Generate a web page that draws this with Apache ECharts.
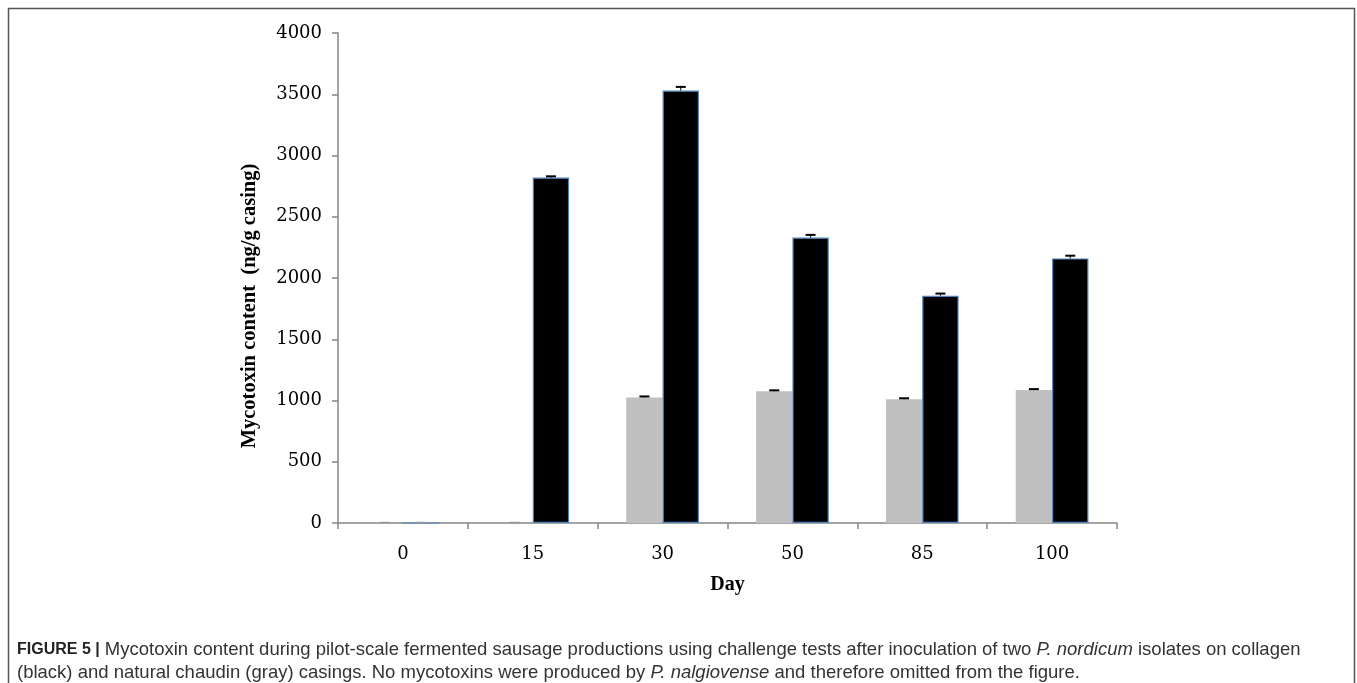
<!DOCTYPE html>
<html>
<head>
<meta charset="utf-8">
<script src="https://cdn.jsdelivr.net/npm/echarts@6/dist/echarts.min.js"></script>
<style>
html,body{margin:0;padding:0;background:#fff;}
#c{width:1357px;height:683px;}
</style>
</head>
<body>
<div id="c"></div>
<script>
const categories = ['0','15','30','50','85','100'];
const chaudin = [0, 0, 1025, 1075, 1010, 1085];
const chaudinErr = [5, 5, 8, 8, 8, 8];
const collagen = [0, 2820, 3530, 2330, 1855, 2160];
const collagenErr = [5, 10, 30, 22, 18, 22];
const yTicks = [0, 500, 1000, 1500, 2000, 2500, 3000, 3500, 4000];
const yTitle = 'Mycotoxin content  (ng/g casing)';

const chart = echarts.init(document.getElementById('c'));
const serif = '"DejaVu Serif", "Liberation Serif", serif';
const serifB = '"Liberation Serif", "DejaVu Serif", serif';
const sans = '"Liberation Sans", Arial, sans-serif';
const BAR_FRAC = 0.28;

function errSeries(values, errs, side) {
  return {
    type: 'custom',
    z: 5,
    data: values.map((v, i) => [i, v, errs[i]]),
    renderItem: function (params, api) {
      const i = api.value(0), v = api.value(1), e = api.value(2);
      const band = api.size([1, 0])[0];
      const bw = band * BAR_FRAC;
      const p0 = api.coord([i, v]);
      const p1 = api.coord([i, v + e]);
      const x = p0[0] + side * bw / 2;
      const hw = 5;
      if (v === 0) {
        return {type: 'line', shape: {x1: x - hw, y1: p0[1] - 0.5, x2: x + hw, y2: p0[1] - 0.5}, style: {stroke: '#999', lineWidth: 1.5}};
      }
      return {
        type: 'group',
        children: [
          {type: 'line', shape: {x1: x, y1: p0[1], x2: x, y2: p1[1]}, style: {stroke: '#000', lineWidth: 1}},
          {type: 'line', shape: {x1: x - hw, y1: p1[1], x2: x + hw, y2: p1[1]}, style: {stroke: '#000', lineWidth: 2}}
        ]
      };
    }
  };
}

chart.setOption({
  animation: false,
  backgroundColor: '#fff',
  grid: {left: 338, right: 240, top: 33, bottom: 160},
  xAxis: {
    type: 'category',
    data: categories,
    name: 'Day',
    nameLocation: 'middle',
    nameGap: 52,
    nameTextStyle: {fontFamily: serifB, fontWeight: 'bold', fontSize: 20, color: '#000'},
    axisLine: {lineStyle: {color: '#868686', width: 1.5}},
    axisTick: {show: true, length: 6, lineStyle: {color: '#868686', width: 1.5}},
    axisLabel: {fontFamily: serif, fontSize: 18, color: '#000', margin: 22}
  },
  yAxis: {
    type: 'value',
    min: 0, max: 4000, interval: 500,
    splitLine: {show: false},
    axisLine: {show: true, lineStyle: {color: '#868686', width: 1.5}},
    axisTick: {show: true, length: 6, lineStyle: {color: '#868686', width: 1.5}},
    axisLabel: {fontFamily: serif, fontSize: 18, color: '#000', margin: 16,
      formatter: v => yTicks.includes(v) ? String(v) : ''}
  },
  series: [
    {name: 'chaudin', type: 'bar', data: chaudin, barGap: '0%', barCategoryGap: '44%',
      itemStyle: {color: '#c0c0c0'}},
    {name: 'collagen', type: 'bar', data: collagen, barGap: '0%', barCategoryGap: '44%',
      itemStyle: {color: '#000', borderColor: '#4f81bd', borderWidth: 1.2}},
    errSeries(chaudin, chaudinErr, -1),
    errSeries(collagen, collagenErr, 1)
  ],
  graphic: [
    {type: 'rect', shape: {x: 8.5, y: 8.5, width: 1346, height: 700},
      style: {fill: 'none', stroke: '#555', lineWidth: 1.5}, silent: true},
    {type: 'text', x: 250, y: 306, rotation: Math.PI / 2, style: {
      text: yTitle, fontFamily: serifB, fontWeight: 'bold', fontSize: 20.5, fill: '#000',
      align: 'center', verticalAlign: 'middle'}},
    {type: 'text', left: 17, top: 640, style: {
      rich: {
        b: {fontFamily: sans, fontWeight: 'bold', fontSize: 16, fill: '#222'},
        n: {fontFamily: sans, fontSize: 18.5, fill: '#333'},
        i: {fontFamily: sans, fontStyle: 'italic', fontSize: 18.5, fill: '#333'}
      },
      text: '{b|FIGURE 5 |}{n| Mycotoxin content during pilot-scale fermented sausage productions using challenge tests after inoculation of two }{i|P. nordicum}{n| isolates on collagen}'
    }},
    {type: 'text', left: 17, top: 663, style: {
      rich: {
        n: {fontFamily: sans, fontSize: 18.5, fill: '#333'},
        i: {fontFamily: sans, fontStyle: 'italic', fontSize: 18.5, fill: '#333'}
      },
      text: '{n|(black) and natural chaudin (gray) casings. No mycotoxins were produced by }{i|P. nalgiovense}{n| and therefore omitted from the figure.}'
    }}
  ]
});
</script>
</body>
</html>
